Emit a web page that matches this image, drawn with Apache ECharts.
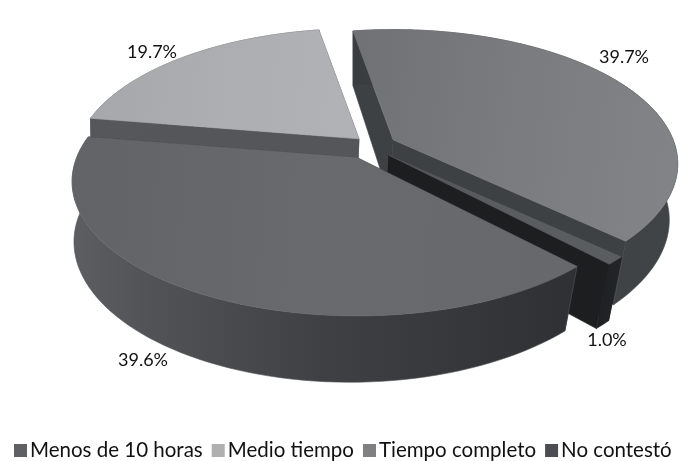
<!DOCTYPE html>
<html>
<head>
<meta charset="utf-8">
<style>html,body{margin:0;padding:0;background:#fff}#c{width:681px;height:461px}</style>
<script src="https://cdn.jsdelivr.net/npm/echarts@6/dist/echarts.min.js"></script>
</head>
<body>
<div id="c"></div>
<script>
// Data
const categories = ['Menos de 10 horas', 'Medio tiempo', 'Tiempo completo', 'No contestó'];
const values = [39.6, 19.7, 39.7, 1.0];
// Order the slices run clockwise from the start angle
const sliceOrder = [2, 3, 0, 1];
// Painter's order (back to front) is the order of the series
const paintOrder = [1, 2, 3, 0];

// Projection of the tilted, exploded disc
const view = {
  cx: 372, cy: 146, a: 280, b: 130, k: 0.179, start: -9.7,
  exX: 24, exY: 13, depth: 55, depthGrow: 0.04, backY: 30, vanishX: 170, lean: 0.000126
};
const looks = [
  { legend: '#5e6063', nudge: [-4, 0],
    top: ['#616366', '#686a6d', '#66686b'],
    outer: [[0, '#5c5e61'], [0.15, '#515357'], [0.5, '#3f4044'], [1, '#2e3034']],
    cut: '#2d2f33', label: [143, 360] },
  { legend: '#b0b0b1', nudge: [4, 2],
    top: ['#a5a7aa', '#acaeb1', '#b0b2b5'],
    outer: [[0, '#55575a'], [1, '#55575a']],
    cut: '#545659', label: [152, 52] },
  { legend: '#808083', nudge: [0, 0],
    top: ['#6f7174', '#797b7e', '#818386'],
    outer: [[0, '#3a3d40'], [1, '#414447']],
    cut: '#3e4144', label: [624, 57] },
  { legend: '#4c4d50', nudge: [0, 0],
    top: ['#505356', '#5a5d60', '#5a5d60'],
    outer: [[0, '#1f2022'], [1, '#232427']],
    cut: '#1d1e20', label: [607, 340] }
];

const rad = d => d * Math.PI / 180;
function spans() {
  const total = values.reduce((s, v) => s + v, 0);
  let t = view.start;
  const out = {};
  sliceOrder.forEach(i => {
    const sweep = values[i] / total * 360;
    out[i] = [t, t + sweep];
    t += sweep;
  });
  return out;
}
const angleSpans = spans();

function rim(deg, apex) {
  const s = Math.sin(rad(deg)), c = Math.cos(rad(deg));
  const w = 1 + view.k * c;
  return [apex[0] + view.a * s / w, apex[1] - view.b * c / w];
}
function drop(p) {
  const near = Math.max(0, p[1] - view.backY);
  return [
    p[0] - (p[0] - view.vanishX) * view.lean * near,
    p[1] + view.depth + near * view.depthGrow
  ];
}
function poly(points, fill) {
  return { type: 'polygon', shape: { points }, style: { fill, stroke: fill && fill.colorStops ? fill.colorStops[1].color : fill, lineWidth: 0.6 } };
}

function sliceRender(i) {
  return function (params, api) {
    const value = api.value(0);
    const look = looks[i];
    const [a0, a1] = angleSpans[i];
    const m = (a0 + a1) / 2;
    const apex = [
      view.cx + view.exX * Math.sin(rad(m)) + look.nudge[0],
      view.cy - view.exY * Math.cos(rad(m)) + look.nudge[1]
    ];
    const arc = [];
    const steps = Math.max(2, Math.ceil((a1 - a0) / 2));
    for (let n = 0; n <= steps; n++) arc.push(rim(a0 + (a1 - a0) * n / steps, apex));
    const first = arc[0], last = arc[arc.length - 1];
    const children = [];
    // the two cut walls go behind the outer wall
    children.push(poly([apex, first, drop(first), drop(apex)], look.cut));
    children.push(poly([apex, last, drop(last), drop(apex)], look.cut));
    // outer wall
    children.push(poly(arc.concat(arc.map(drop).reverse()),
      new echarts.graphic.LinearGradient(0, 0, 1, 0, look.outer.map(s => ({ offset: s[0], color: s[1] })))));
    // top face
    children.push(poly([apex].concat(arc),
      new echarts.graphic.LinearGradient(0, 0, 1, 0.2, look.top.map((c, n) => ({ offset: n / (look.top.length - 1), color: c })))));
    // value label
    children.push({
      type: 'text',
      style: {
        text: value.toFixed(1) + '%', x: look.label[0], y: look.label[1],
        align: 'center', verticalAlign: 'middle',
        font: '18px Lato', fill: '#111'
      }
    });
    return { type: 'group', children };
  };
}

const chart = echarts.init(document.getElementById('c'), null, { renderer: 'canvas' });
chart.setOption({
  animation: false,
  backgroundColor: '#ffffff',
  legend: {
    data: categories,
    left: 14, top: 440,
    icon: 'rect', itemWidth: 13, itemHeight: 13, itemGap: 9,
    padding: 0,
    selectedMode: false,
    textStyle: { fontFamily: 'Lato', fontSize: 20.5, color: '#111', padding: [0, 0, 0, -2] }
  },
  series: paintOrder.map(i => ({
    type: 'custom',
    name: categories[i],
    coordinateSystem: 'none',
    itemStyle: { color: looks[i].legend },
    silent: true,
    data: [[values[i]]],
    renderItem: sliceRender(i)
  }))
});
</script>
</body>
</html>
